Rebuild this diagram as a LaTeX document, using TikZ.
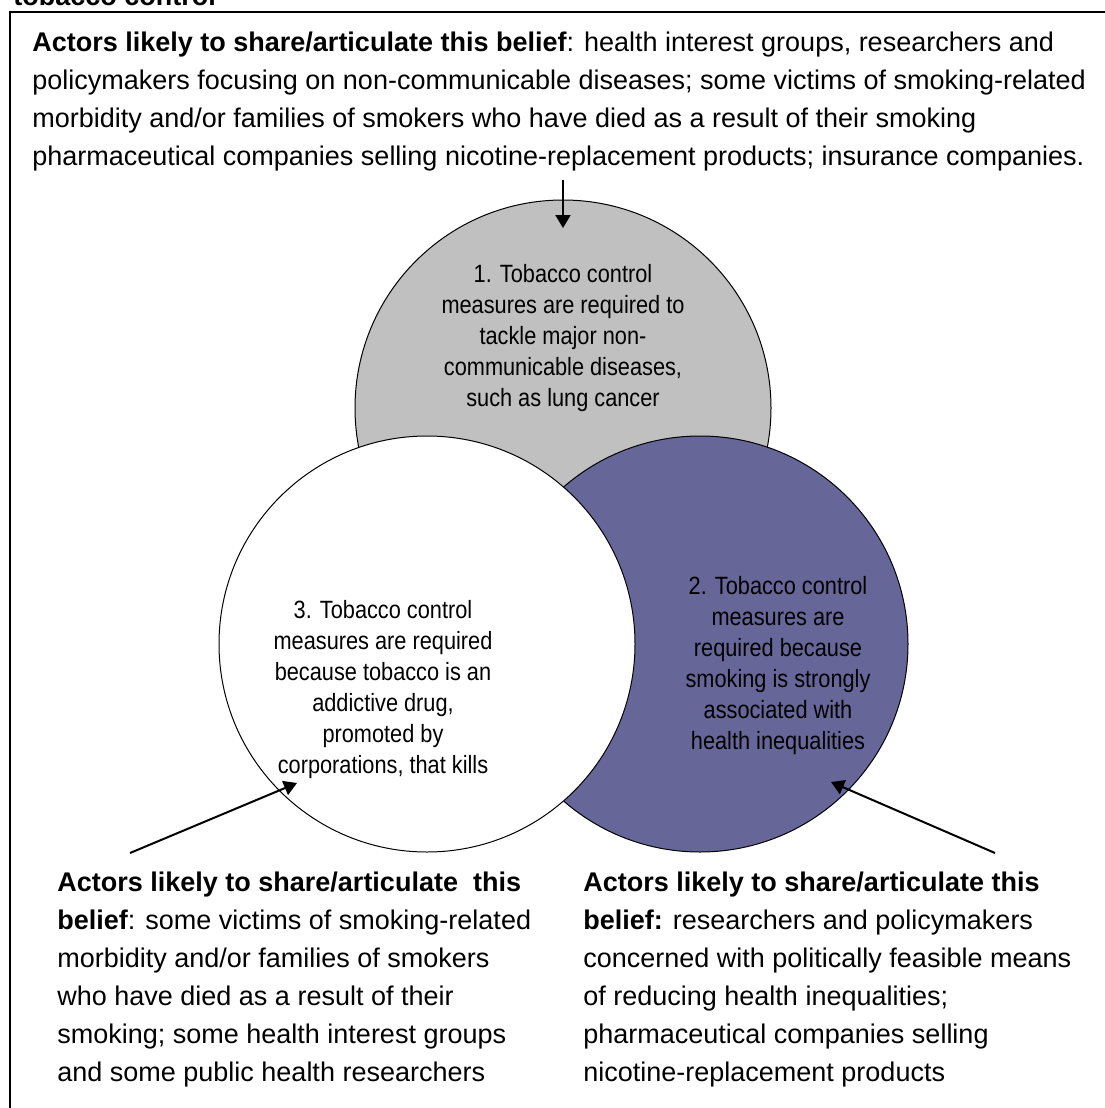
\documentclass[tikz,border=0pt]{standalone}
\usepackage{fontspec}
\setmainfont{Liberation Sans}
\newfontfamily\circfont[FakeStretch=0.87]{Liberation Sans}
\usetikzlibrary{arrows.meta}
\definecolor{vgrey}{RGB}{192,192,192}
\definecolor{vpurple}{RGB}{102,102,153}
\tikzset{
  venn/.style={circle, draw=black, line width=0.5pt, minimum size=208pt, inner sep=0pt},
  ctext/.style={font=\circfont\fontsize{12.5pt}{15.5pt}\selectfont, align=center, inner sep=0pt, text=black},
  btext/.style={font=\fontsize{13.5pt}{19pt}\selectfont, align=left, inner sep=0pt, anchor=north west},
  pointer/.style={line width=1pt, -{Triangle[length=6.5pt,width=7.5pt]}}
}
\begin{document}
\begin{tikzpicture}[x=0.5pt,y=-0.5pt]
\useasboundingbox (0,0) rectangle (1104,1108);
\fill[white] (0,0) rectangle (1104,1108);
% frame (extends beyond the page on the right and bottom)
\draw[line width=0.85pt] (10,12) rectangle (1130,1130);
% clipped heading
\node[anchor=base west, inner sep=0pt, font=\bfseries\fontsize{13.5pt}{19pt}\selectfont] (head) at (13,5) {tobacco control};
% circles
\node[venn, fill=vgrey] (c1) at (563,408) {};
\node[venn, fill=vpurple] (c2) at (700,644) {};
\node[venn, fill=white] (c3) at (427,644) {};
% circle texts
\node[ctext] (t1) at (563,338) {1. Tobacco control\\measures are required to\\tackle major non-\\communicable diseases,\\such as lung cancer};
\node[ctext] (t2) at (778,666) {2. Tobacco control\\measures are\\required because\\smoking is strongly\\associated with\\health inequalities};
\node[ctext] (t3) at (383,690) {3. Tobacco control\\measures are required\\because tobacco is an\\addictive drug,\\promoted by\\corporations, that kills};
% actor texts
\node[btext] (a1) at (32,32) {\textbf{Actors likely to share/articulate this belief}: health interest groups, researchers and\\policymakers focusing on non-communicable diseases; some victims of smoking-related\\morbidity and/or families of smokers who have died as a result of their smoking\\pharmaceutical companies selling nicotine-replacement products; insurance companies.};
\node[btext] (a3) at (57,872) {\textbf{Actors likely to share/articulate\ \ this}\\\textbf{belief}: some victims of smoking-related\\morbidity and/or families of smokers\\who have died as a result of their\\smoking; some health interest groups\\and some public health researchers};
\node[btext] (a2) at (583,872) {\textbf{Actors likely to share/articulate this}\\\textbf{belief:} researchers and policymakers\\concerned with politically feasible means\\of reducing health inequalities;\\pharmaceutical companies selling\\nicotine-replacement products};
% arrows
\coordinate (s1) at (563,180);
\coordinate (e1) at (563,228);
\coordinate (s3) at (130,853);
\coordinate (e3) at (297,783);
\coordinate (s2) at (995,853);
\coordinate (e2) at (831,782);
\draw[pointer] (s1) -- (e1);
\draw[pointer] (s3) -- (e3);
\draw[pointer] (s2) -- (e2);
\end{tikzpicture}
\end{document}
